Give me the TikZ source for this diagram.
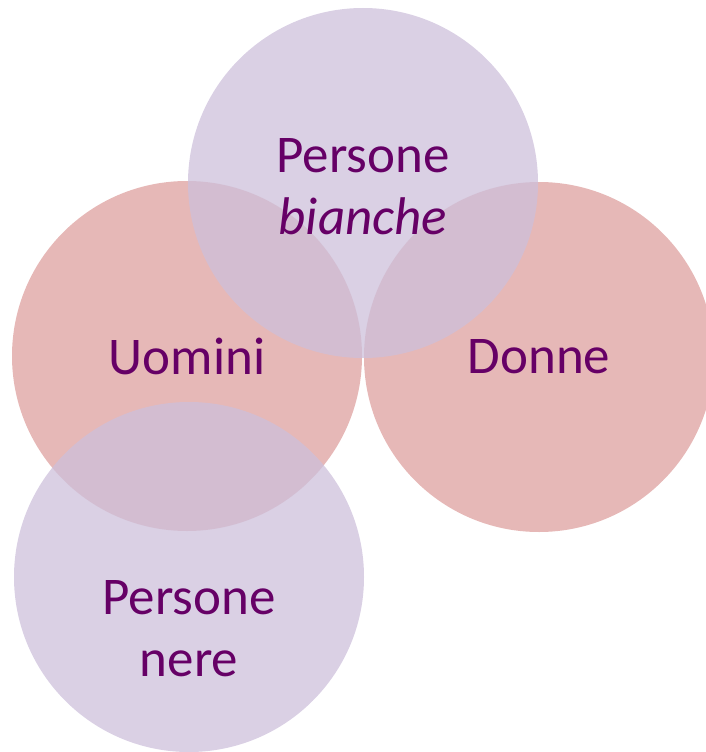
\documentclass[tikz,border=0pt]{standalone}
\usepackage{fontspec}
\setmainfont{Carlito}
\usepackage{xcolor}
\definecolor{pinkset}{HTML}{E6B8B7}
\definecolor{lilacset}{HTML}{CDC0DB}
\definecolor{labelpurple}{HTML}{660066}

\begin{document}
\begin{tikzpicture}[x=1pt,y=-1pt]
        \tikzstyle{every node}+=[inner sep=0pt]
        \tikzstyle{pinkdisc}=[circle, minimum size=350pt, fill=pinkset]
        \tikzstyle{lilacdisc}=[circle, minimum size=350pt, fill=lilacset, fill opacity=0.75]
        \tikzstyle{setlabel}=[text=labelpurple, align=center, font=\fontsize{53}{62}\selectfont]
        \useasboundingbox (0,0) rectangle (706,752);
        \clip (0,0) rectangle (706,752);
        \node [pinkdisc] (men) at (187,356) {};
        \node [pinkdisc] (women) at (539,357) {};
        \node [lilacdisc] (white) at (363,183) {};
        \node [lilacdisc] (black) at (189,577) {};
        \node [setlabel] at ([yshift=-4pt]white.center) {Persone\\\textit{bianche}};
        \node [setlabel] at (men.center) {Uomini};
        \node [setlabel] at (women.center) {Donne};
        \node [setlabel] at ([yshift=-52pt]black.center) {Persone\\nere};
        \end{tikzpicture}
\end{document}
